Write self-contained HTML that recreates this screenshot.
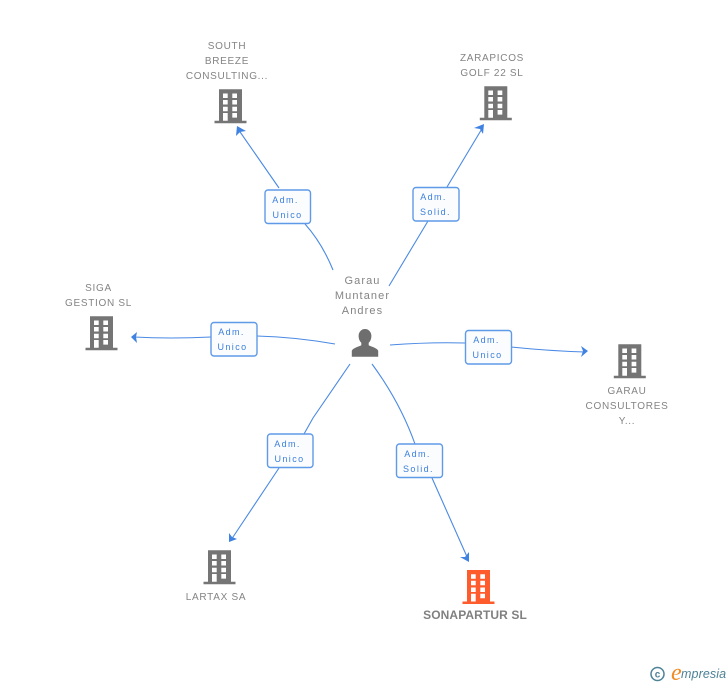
<!DOCTYPE html>
<html><head><meta charset="utf-8">
<style>
html,body{margin:0;padding:0;background:#fff}
body{width:728px;height:685px;overflow:hidden}
svg{display:block}
.n{font:10px "Liberation Sans",sans-serif;fill:#848484;text-anchor:middle;letter-spacing:.7px}
.c{font:11px "Liberation Sans",sans-serif;fill:#848484;text-anchor:middle;letter-spacing:1.1px}
.l{font:9px "Liberation Sans",sans-serif;fill:#3b7fdc;letter-spacing:1.4px;text-anchor:middle}
.b{fill:#fbfcfe;stroke:#5f9ae8;stroke-width:1.4}
.e{fill:none;stroke:#4a89e4;stroke-width:1.1}
.a{fill:#3f82e2}
</style></head><body>
<svg width="728" height="685" viewBox="0 0 728 685" xmlns="http://www.w3.org/2000/svg">
<defs>
<g id="bld">
<path fill="currentColor" fill-rule="evenodd" d="M0 0H23V31.5H27.5V34H-4.5V31.5H0ZM4 4.2V8.7H8.7V4.2ZM13.3 4.2V8.7H18V4.2ZM4 10.7V15.2H8.7V10.7ZM13.3 10.7V15.2H18V10.7ZM4 17.5V22H8.7V17.5ZM13.3 17.5V22H18V17.5ZM4 23.7V31.5H8.7V23.7ZM13.3 23.7V28.3H18V23.7Z"/>
</g>
</defs>

<path class="e" d="M333 270Q322 243 305 224"/>
<path class="e" d="M279 188L238 129"/>
<path class="a" d="M237 126L246 131L240 132L236 136Z"/>
<path class="e" d="M389 286L428 221"/>
<path class="e" d="M447 187L483 127"/>
<path class="a" d="M484 124L483 134L480 129L474 128Z"/>
<path class="e" d="M335 344Q295 337 257 336"/>
<path class="e" d="M211 337Q170 339 134 337"/>
<path class="a" d="M131 337L137 332L136 337L137 343Z"/>
<path class="e" d="M390 345Q430 342 465 343"/>
<path class="e" d="M511 347Q550 351 585 352"/>
<path class="a" d="M588 351L581 346L583 351L581 357Z"/>
<path class="e" d="M350 364L313 418L304 434"/>
<path class="e" d="M279 468L231 540"/>
<path class="a" d="M229 542L229 533L232 537L237 539Z"/>
<path class="e" d="M372 364Q400 402 415 444"/>
<path class="e" d="M432 478L468 559"/>
<path class="a" d="M469 562L460 557L465 557L469 552Z"/>

<rect class="b" x="265" y="190" width="45.500" height="33.500" rx="3"/>
<rect class="b" x="413" y="187.500" width="46" height="33.500" rx="3"/>
<rect class="b" x="211" y="322.500" width="46" height="33.500" rx="3"/>
<rect class="b" x="465.500" y="330.500" width="46" height="33.500" rx="3"/>
<rect class="b" x="267.500" y="434" width="45.500" height="33.500" rx="3"/>
<rect class="b" x="396.500" y="444" width="46" height="33.500" rx="3"/>

<text class="l" x="285.500" y="203">Adm.</text><text class="l" x="287.500" y="218">Unico</text>
<text class="l" x="433.500" y="200">Adm.</text><text class="l" x="435.500" y="215">Solid.</text>
<text class="l" x="231.500" y="335">Adm.</text><text class="l" x="232.500" y="350">Unico</text>
<text class="l" x="486.500" y="343">Adm.</text><text class="l" x="487.500" y="358">Unico</text>
<text class="l" x="287.500" y="447">Adm.</text><text class="l" x="289.500" y="462">Unico</text>
<text class="l" x="417.500" y="457">Adm.</text><text class="l" x="418.500" y="472">Solid.</text>

<use href="#bld" x="219" y="89.300" color="#757575"/>
<use href="#bld" x="484.300" y="86.300" color="#757575"/>
<use href="#bld" x="90" y="316.300" color="#757575"/>
<use href="#bld" x="618.300" y="344.300" color="#757575"/>
<use href="#bld" x="208" y="550.300" color="#757575"/>
<use href="#bld" x="467" y="570" color="#ff5c2e"/>

<text class="n" x="227" y="49">SOUTH</text>
<text class="n" x="227" y="64">BREEZE</text>
<text class="n" x="227" y="79">CONSULTING...</text>
<text class="n" x="492" y="61">ZARAPICOS</text>
<text class="n" x="492" y="76">GOLF 22 SL</text>
<text class="n" x="98.500" y="291">SIGA</text>
<text class="n" x="98.500" y="306">GESTION SL</text>
<text class="n" x="627" y="394">GARAU</text>
<text class="n" x="627" y="409">CONSULTORES</text>
<text class="n" x="627" y="424">Y...</text>
<text class="n" x="216" y="600">LARTAX SA</text>
<text x="475" y="619" text-anchor="middle" style="font:bold 12px 'Liberation Sans',sans-serif;fill:#808080;letter-spacing:.1px">SONAPARTUR SL</text>

<text class="c" x="362.500" y="284">Garau</text>
<text class="c" x="362.500" y="299">Muntaner</text>
<text class="c" x="362.500" y="314">Andres</text>
<path fill="#6e6e6e" d="M365 329c3.800 0 6.400 3.200 6.400 7 0 2.800-1 5.200-2.700 6.800v2.400c2 1.300 8.500 2.600 9.500 5.500v6h-26.400v-6c1-2.900 7.500-4.200 9.500-5.500v-2.400c-1.700-1.600-2.700-4-2.700-6.800 0-3.800 2.600-7 6.400-7Z"/>

<circle cx="657.500" cy="674" r="6.500" fill="none" stroke="#4d8297" stroke-width="1.500"/>
<text x="657.500" y="677.500" text-anchor="middle" style="font:bold 10px 'Liberation Sans',sans-serif;fill:#4d8297">c</text>
<text x="671" y="680" style="font:italic 24px 'Liberation Serif',serif;fill:#f08a24">e</text>
<text x="681" y="678" style="font:italic 12.500px 'Liberation Sans',sans-serif;fill:#4d8297;letter-spacing:.1px">mpresia</text>
</svg>
</body></html>
